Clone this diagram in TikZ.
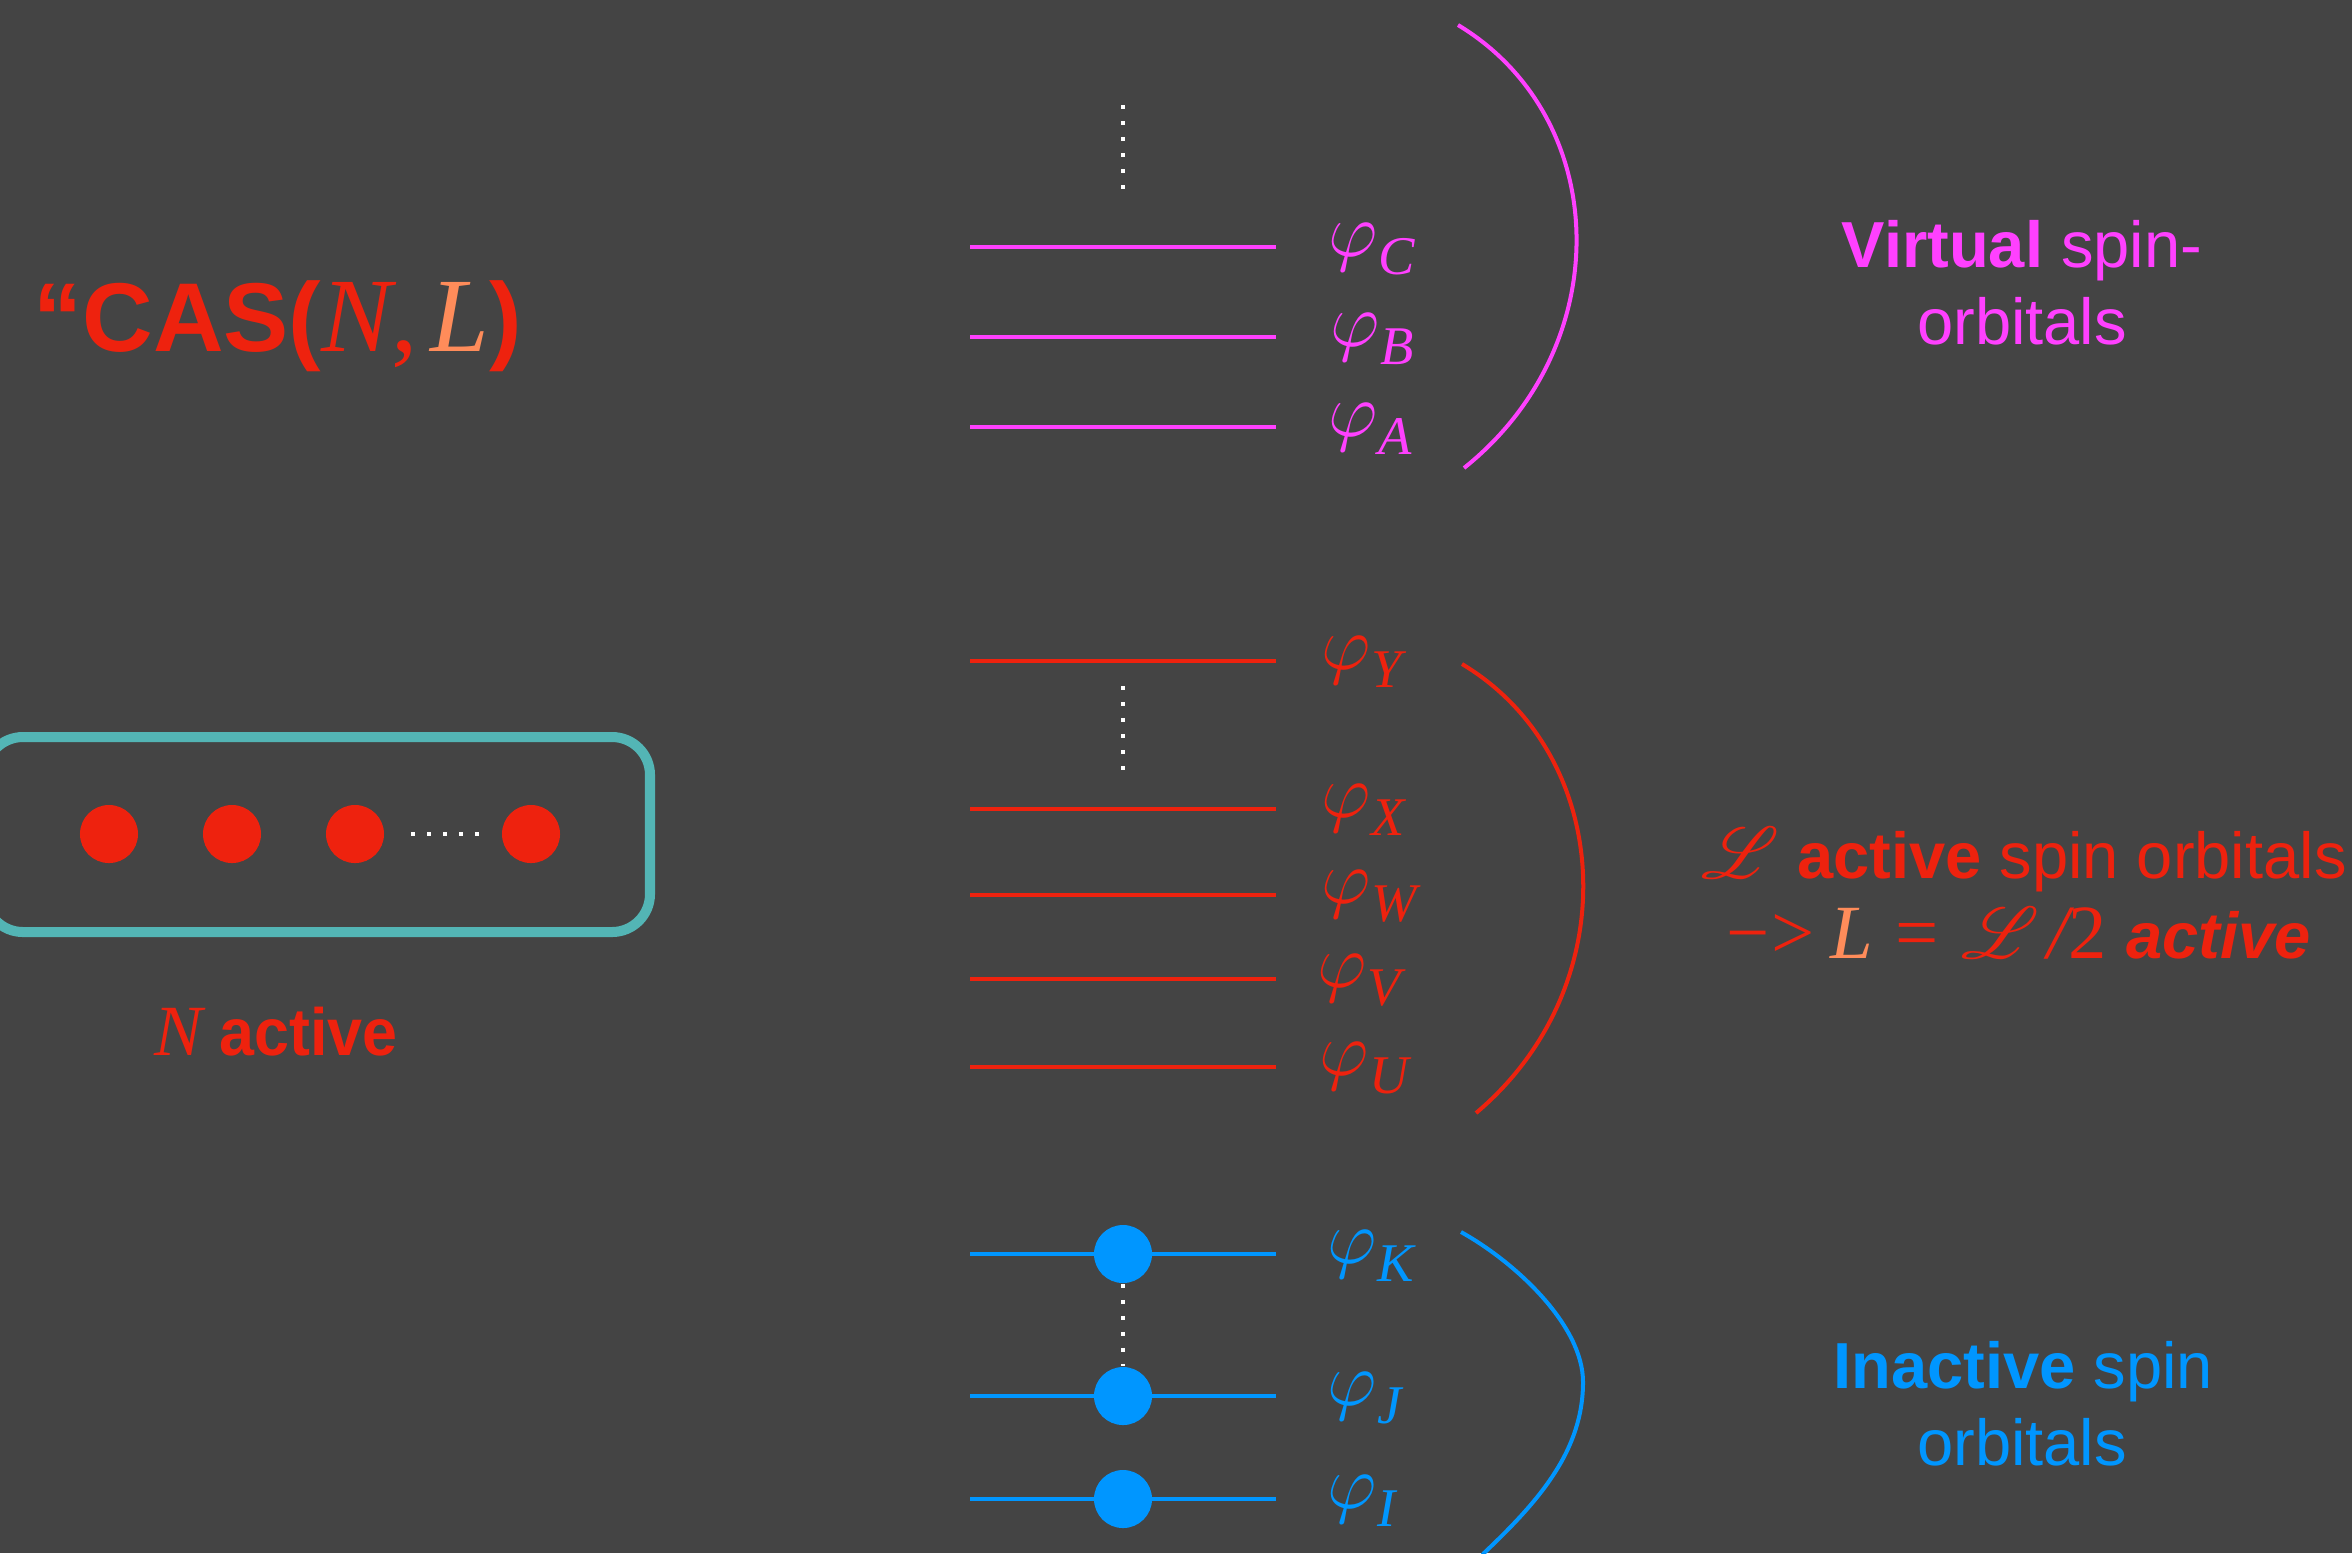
\RequirePackage{fix-cm}
\documentclass[tikz,border=0pt]{standalone}
\usepackage{fontspec}
\setsansfont{Liberation Sans}
\newfontfamily\tms{Liberation Serif}
\newfontfamily\sfnarrow{Liberation Sans}[FakeStretch=0.94]
\usepackage{mathrsfs}
\definecolor{bg}{RGB}{68,68,68}
\definecolor{magv}{RGB}{255,64,255}
\definecolor{reda}{RGB}{238,34,14}
\definecolor{bluei}{RGB}{0,150,255}
\definecolor{tealb}{RGB}{83,181,181}
\definecolor{orangeL}{RGB}{255,140,90}
\newcommand\orb[1]{$\varphi$\kern0.01em\raisebox{-0.24em}{\tms\itshape\fontsize{15.5}{16}\selectfont #1}}
\begin{document}
\begin{tikzpicture}[x=0.01cm,y=-0.01cm,
  lvl/.style={line width=1.28pt},
  vdots/.style={draw=white,line width=1.14pt,dash pattern=on 1.14pt off 3.41pt},
  bracearc/.style={line width=1.14pt},
  phil/.style={anchor=base west,inner sep=0pt,font=\fontsize{21.8}{26}\selectfont},
  side/.style={anchor=base,inner sep=0pt,font=\sffamily\fontsize{18.5}{22}\selectfont},
  elec/.style={circle,inner sep=0pt,minimum size=0.58cm},
]
\useasboundingbox (0,0) rectangle (2352,1553);
\fill[bg] (0,0) rectangle (2352,1553);
\clip (0,0) rectangle (2352,1553);

% title
\node[anchor=base west,inner sep=0pt,text=reda,font=\sffamily\bfseries\fontsize{27.8}{32}\selectfont] (title) at (33,351)
  {“CAS({\tms\mdseries\itshape\fontsize{30}{32}\selectfont N\upshape,\kern0.12em{\color{orangeL}\itshape L}})};

% electron box
\draw[tealb,line width=2.85pt,rounded corners=10.8pt] (-15,737) rectangle (650,932);
\node[elec,fill=reda] (e1) at (109,834) {};
\node[elec,fill=reda] (e2) at (232,834) {};
\node[elec,fill=reda] (e3) at (355,834) {};
\node[elec,fill=reda] (e4) at (531,834) {};
\coordinate (hd1) at (411,834);
\coordinate (hd2) at (484,834);
\draw[vdots] (hd1) -- (hd2);
\node[anchor=base west,inner sep=0pt,text=reda,font=\sfnarrow\fontsize{19}{22}\selectfont] (nact) at (154,1055)
  {{\tms\itshape\fontsize{20.5}{22}\selectfont N}\kern0.25em\textbf{active}};

% virtual levels
\coordinate (C-l) at (970,247);  \coordinate (C-r) at (1276,247);
\coordinate (B-l) at (970,337);  \coordinate (B-r) at (1276,337);
\coordinate (A-l) at (970,427);  \coordinate (A-r) at (1276,427);
\draw[lvl,magv] (C-l) -- (C-r);
\draw[lvl,magv] (B-l) -- (B-r);
\draw[lvl,magv] (A-l) -- (A-r);
\coordinate (vd1) at (1123,105); \coordinate (vd2) at (1123,190);
\draw[vdots] (vd1) -- (vd2);
\node[phil,text=magv] (lC) at (1328,256) {\orb{C}};
\node[phil,text=magv] (lB) at (1330,346) {\orb{B}};
\node[phil,text=magv] (lA) at (1328,436) {\orb{A}};
\draw[bracearc,magv] (1458,25) .. controls (1612,118) and (1618,345) .. (1464,468);
\node[side,text=magv] (virt1) at (2022,267) {\textbf{Virtual} spin-};
\node[side,text=magv] (virt2) at (2022,344) {orbitals};

% active levels
\coordinate (Y-l) at (970,661);   \coordinate (Y-r) at (1276,661);
\coordinate (X-l) at (970,809);   \coordinate (X-r) at (1276,809);
\coordinate (W-l) at (970,895);   \coordinate (W-r) at (1276,895);
\coordinate (V-l) at (970,979);   \coordinate (V-r) at (1276,979);
\coordinate (U-l) at (970,1067);  \coordinate (U-r) at (1276,1067);
\draw[lvl,reda] (Y-l) -- (Y-r);
\draw[lvl,reda] (X-l) -- (X-r);
\draw[lvl,reda] (W-l) -- (W-r);
\draw[lvl,reda] (V-l) -- (V-r);
\draw[lvl,reda] (U-l) -- (U-r);
\coordinate (ad1) at (1123,686); \coordinate (ad2) at (1123,772);
\draw[vdots] (ad1) -- (ad2);
\node[phil,text=reda] (lY) at (1321,669) {\orb{Y}};
\node[phil,text=reda] (lX) at (1321,817) {\orb{X}};
\node[phil,text=reda] (lW) at (1321,903) {\orb{W}};
\node[phil,text=reda] (lV) at (1317,987) {\orb{V}};
\node[phil,text=reda] (lU) at (1319,1075) {\orb{U}};
\draw[bracearc,reda] (1462,664) .. controls (1614,755) and (1628,985) .. (1476,1113);
\node[side,text=reda] (act1) at (2024,878) {{\fontsize{20.5}{22}\selectfont$\mathscr{L}$} \textbf{active} spin orbitals};
\node[anchor=base west,inner sep=0pt,text=reda,font=\sffamily\fontsize{18.5}{22}\selectfont] (act2) at (1726,958)
  {{\tms\fontsize{21.8}{24}\selectfont −\kern0.02em>\kern0.2em{\color{orangeL}\itshape L}\kern0.3em=\kern0.3em$\mathscr{L}$\kern0.1em{\itshape /}2}\kern0.3em\textbf{\itshape active}};

% inactive levels
\coordinate (K-l) at (970,1254);  \coordinate (K-r) at (1276,1254);
\coordinate (J-l) at (970,1396);  \coordinate (J-r) at (1276,1396);
\coordinate (I-l) at (970,1499);  \coordinate (I-r) at (1276,1499);
\draw[lvl,bluei] (K-l) -- (K-r);
\draw[lvl,bluei] (J-l) -- (J-r);
\draw[lvl,bluei] (I-l) -- (I-r);
\node[elec,fill=bluei] (dK) at (1123,1254) {};
\node[elec,fill=bluei] (dJ) at (1123,1396) {};
\node[elec,fill=bluei] (dI) at (1123,1499) {};
\draw[vdots] (dK.south) -- (dJ.north);
\node[phil,text=bluei] (lK) at (1327,1263) {\orb{K}};
\node[phil,text=bluei] (lJ) at (1327,1405) {\orb{J}};
\node[phil,text=bluei] (lI) at (1327,1508) {\orb{I}};
\draw[bracearc,bluei] (1461,1232) .. controls (1515,1262) and (1583,1325) .. (1583,1382)
  .. controls (1583,1450) and (1540,1500) .. (1484,1553) -- (1470,1572);
\node[side,text=bluei] (inact1) at (2023,1388) {\textbf{Inactive} spin};
\node[side,text=bluei] (inact2) at (2022,1465) {orbitals};
\end{tikzpicture}
\end{document}
